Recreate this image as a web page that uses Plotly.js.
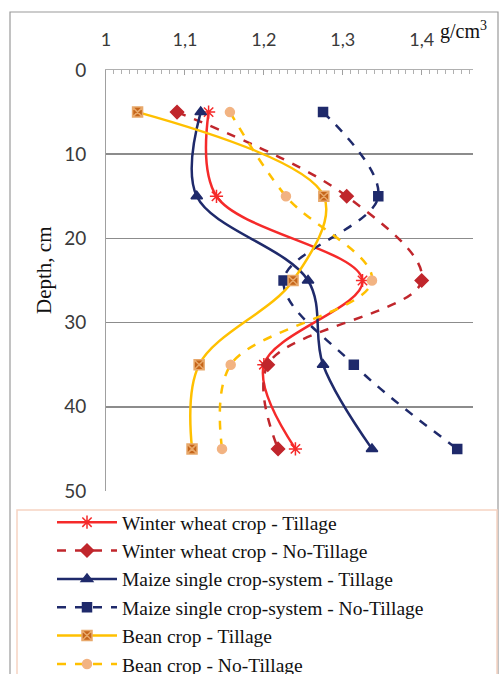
<!DOCTYPE html>
<html>
<head>
<meta charset="utf-8">
<script src="https://cdn.plot.ly/plotly-3.0.1.min.js"></script>
<style>html,body{margin:0;padding:0;background:#fff}#chart{width:500px;height:674px}</style>
</head>
<body>
<div id="chart"></div>
<script>
const depth = [5, 15, 25, 35, 45];
const wheatTillage   = [1.13, 1.14, 1.325, 1.20, 1.24];
const wheatNoTillage = [1.09, 1.305, 1.40, 1.205, 1.218];
const maizeTillage   = [1.12, 1.115, 1.256, 1.275, 1.337];
const maizeNoTillage = [1.275, 1.345, 1.225, 1.314, 1.445];
const beanTillage    = [1.04, 1.276, 1.237, 1.118, 1.109];
const beanNoTillage  = [1.157, 1.228, 1.337, 1.158, 1.147];
const seriesNames = [
  'Winter wheat crop - Tillage',
  'Winter wheat crop - No-Tillage',
  'Maize single crop-system - Tillage',
  'Maize single crop-system - No-Tillage',
  'Bean crop - Tillage',
  'Bean crop - No-Tillage'
];
const xTicks = [1, 1.1, 1.2, 1.3, 1.4];
const yTicks = [0, 10, 20, 30, 40, 50];

function tr(x, i, lineColor, dash, symbol, mColor, mLine, mSize) {
  return {
    x: x, y: depth, name: seriesNames[i], type: 'scatter', mode: 'lines+markers',
    legendgroup: 'g' + i,
    line: {color: lineColor, width: 2.5, dash: dash, shape: 'spline', smoothing: 1},
    marker: {symbol: symbol, color: mColor, size: mSize, line: {color: mLine, width: 1.5}}
  };
}
const data = [
  tr(wheatTillage, 0, '#f52a2a', 'solid', 'asterisk-open', '#f52a2a', '#f52a2a', 11),
  tr(wheatNoTillage, 1, '#c0262c', 'dash', 'diamond', '#c0262c', '#c0262c', 10),
  tr(maizeTillage, 2, '#1f2a6b', 'solid', 'triangle-up', '#1f2a6b', '#1f2a6b', 10),
  tr(maizeNoTillage, 3, '#1f2a6b', 'dash', 'square', '#1f2a6b', '#1f2a6b', 9),
  tr(beanTillage, 4, '#ffc000', 'solid', 'square-x', '#c5651a', '#e8a86a', 10),
  tr(beanNoTillage, 5, '#ffc000', 'dash', 'circle', '#f2b382', '#f2b382', 9)
];

const pxX = p => (p - 106) / 367;
const pxY = p => (491 - p) / 421;

const layout = {
  width: 500, height: 674,
  margin: {l: 106, r: 27, t: 70, b: 183, autoexpand: false},
  paper_bgcolor: '#ffffff', plot_bgcolor: '#ffffff',
  separators: ', ',
  showlegend: true,
  xaxis: {
    side: 'top', range: [1, 1.465], tickvals: xTicks,
    tickformat: '.1~f',
    showgrid: false, zeroline: false,
    showline: true, linecolor: '#b0b0b0', linewidth: 1,
    ticks: 'inside', ticklen: 5, tickcolor: '#a0a0a0',
    minor: {dtick: 0.01, ticks: 'inside', ticklen: 4, tickcolor: '#b0b0b0', showgrid: false},
    ticklabelstandoff: 16,
    tickfont: {family: 'Lato, Carlito, sans-serif', size: 18, color: '#3a3a3a'}
  },
  yaxis: {
    range: [50, 0], tickvals: yTicks,
    showgrid: true, gridcolor: '#8c8c8c', gridwidth: 1.5,
    zeroline: false, showline: true, linecolor: '#a0a0a0', linewidth: 1,
    ticks: '', ticklabelstandoff: 15,
    tickfont: {family: 'Lato, Carlito, sans-serif', size: 19, color: '#3a3a3a'}
  },
  legend: {
    x: pxX(52), y: pxY(503), xanchor: 'left', yanchor: 'top',
    bgcolor: 'rgba(0,0,0,0)', borderwidth: 0,
    tracegroupgap: 0, itemwidth: 60,
    font: {family: '"Liberation Serif", "Times New Roman", serif', size: 19.5, color: '#111'}
  },
  shapes: [
    {type: 'rect', xref: 'paper', yref: 'paper', x0: pxX(10), x1: pxX(498), y0: pxY(690), y1: pxY(12),
     line: {color: '#9a9a9a', width: 1.2}, fillcolor: 'rgba(0,0,0,0)', layer: 'below'},
    {type: 'rect', xref: 'paper', yref: 'paper', x0: pxX(17), x1: pxX(497), y0: pxY(690), y1: pxY(510),
     line: {color: '#f6d3c2', width: 1.5}, fillcolor: '#ffffff', layer: 'below'}
  ],
  annotations: [
    {text: 'Depth, cm', xref: 'paper', yref: 'paper', x: pxX(44), y: pxY(271),
     textangle: -90, showarrow: false, xanchor: 'center', yanchor: 'middle',
     font: {family: '"Liberation Serif", "Times New Roman", serif', size: 21, color: '#111'}},
    {text: 'g/cm<sup>3</sup>', xref: 'paper', yref: 'paper', x: pxX(463), y: pxY(31),
     showarrow: false, xanchor: 'center', yanchor: 'middle',
     font: {family: '"Liberation Serif", "Times New Roman", serif', size: 20, color: '#111'}}
  ]
};
Plotly.newPlot('chart', data, layout, {displayModeBar: false, staticPlot: true});
</script>
</body>
</html>
